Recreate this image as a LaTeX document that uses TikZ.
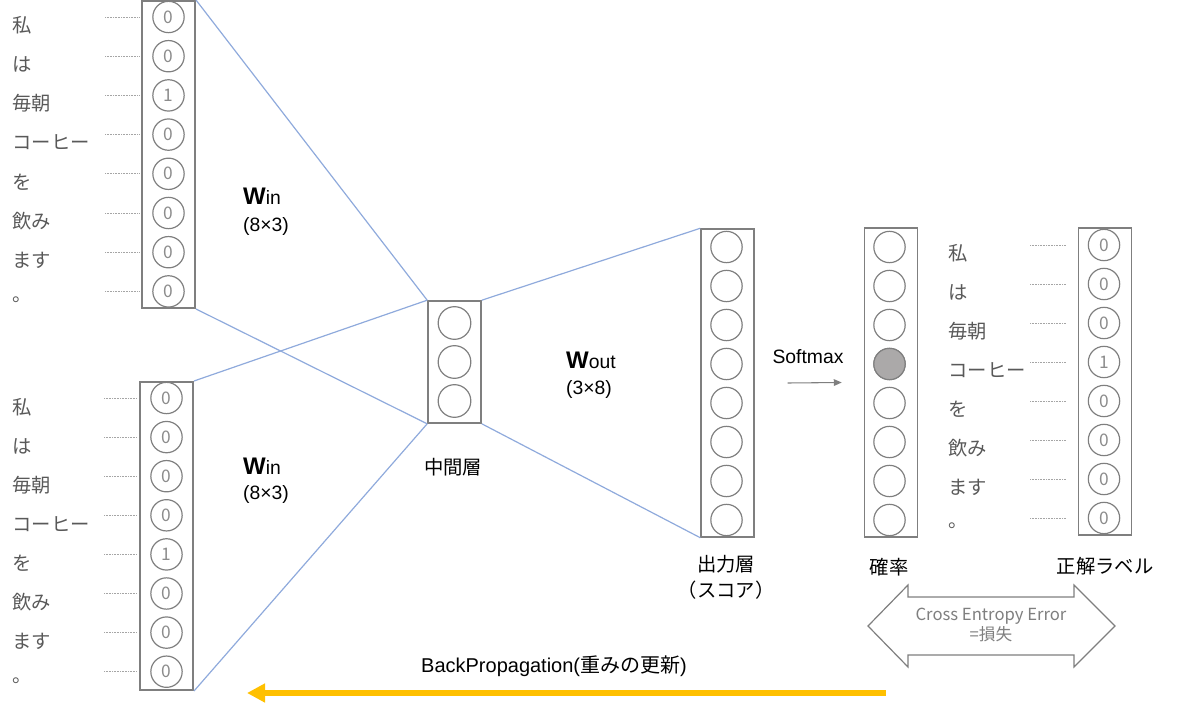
\documentclass[tikz,border=0pt]{standalone}
\usepackage{fontspec}
\setmainfont{Liberation Sans}
\newfontfamily\jp{Noto Sans CJK JP}
\usetikzlibrary{arrows.meta}

\definecolor{gridgray}{RGB}{127,127,127}
\definecolor{wordgray}{RGB}{89,89,89}
\definecolor{digitgray}{RGB}{140,140,140}
\definecolor{linkblue}{RGB}{143,170,220}
\definecolor{backyellow}{RGB}{255,192,0}
\definecolor{hitgray}{RGB}{171,169,169}

\tikzset{every picture/.style={line width=0.75pt}}
\tikzset{
  colbox/.style={draw=gridgray, line width=1.5pt, minimum width=39.75pt, inner sep=0pt},
  unit/.style={circle, draw=gridgray, line width=0.9pt, minimum size=23.5pt, inner sep=0pt,
    text=digitgray, font=\fontsize{13}{14}\selectfont\jp},
  word/.style={anchor=west, inner sep=0.75pt, text=wordgray, font=\fontsize{14.5}{16}\selectfont\jp},
  dots/.style={draw=gridgray!70, line width=0.6pt, dash pattern=on 0.6pt off 0.6pt},
  link/.style={draw=linkblue, line width=0.9pt},
  layername/.style={inner sep=0.75pt, font=\fontsize{14.5}{19.5}\selectfont\jp, align=center},
  weight/.style={inner sep=0.75pt, font=\fontsize{14.5}{16}\selectfont},
}

\begin{document}
\begin{tikzpicture}[x=0.75pt,y=0.75pt,yscale=-1,xscale=1]
\path[use as bounding box] (0,0) rectangle (1200,713);

% input column (top)
\node[colbox, minimum height=230.25pt] (inA) at (168.5,154.5) {};
\foreach \d [count=\i] in {0,0,1,0,0,0,0,0}{
  \node[unit] (inA-\i) at (168.5,{17+39.2*(\i-1)}) {\d};
}
\foreach \w [count=\i] in {私,は,毎朝,コーヒー,を,飲み,ます,。}{
  \node[word] (wA-\i) at (11,{25+39.2*(\i-1)}) {\w};
  \coordinate (dA-\i) at (105,{17+39.2*(\i-1)});
  \draw[dots, shorten >=1.5pt] (dA-\i) -- (inA.west |- inA-\i);
}

% input column (bottom)
\node[colbox, minimum height=231pt] (inB) at (166.5,536) {};
\foreach \d [count=\i] in {0,0,0,0,1,0,0,0}{
  \node[unit] (inB-\i) at (166.5,{398+39.1*(\i-1)}) {\d};
}
\foreach \w [count=\i] in {私,は,毎朝,コーヒー,を,飲み,ます,。}{
  \node[word] (wB-\i) at (11,{407+39.1*(\i-1)}) {\w};
  \coordinate (dB-\i) at (104,{398+39.1*(\i-1)});
  \draw[dots, shorten >=1.5pt] (dB-\i) -- (inB.west |- inB-\i);
}

% hidden layer
\node[colbox, line width=1.2pt, minimum height=91.5pt] (hid) at (454.5,362) {};
\foreach \i in {1,2,3}{
  \node[unit, minimum size=24.5pt] (hid-\i) at (454.5,{323+39*(\i-1)}) {};
}

% output layer
\node[colbox, line width=1.1pt, minimum height=231pt] (out) at (727.5,383) {};
\foreach \i in {1,...,8}{
  \node[unit] (out-\i) at (726.5,{247+39*(\i-1)}) {};
}

% probabilities
\node[colbox, line width=1.1pt, minimum height=231.75pt] (prob) at (891,382.5) {};
\foreach \i in {1,...,8}{
  \node[unit] (prob-\i) at (889.5,{247+39*(\i-1)}) {};
}
\node[unit, fill=hitgray] at (prob-4) {};

% correct label
\node[colbox, line width=1.1pt, minimum height=230.25pt] (lab) at (1105,381.5) {};
\foreach \d [count=\i] in {0,0,0,1,0,0,0,0}{
  \node[unit] (lab-\i) at (1104,{245+39*(\i-1)}) {\d};
}
\foreach \w [count=\i] in {私,は,毎朝,コーヒー,を,飲み,ます,。}{
  \node[word] (wC-\i) at (947,{253+39*(\i-1)}) {\w};
  \coordinate (dC-\i) at (1030,{245+39*(\i-1)});
  \draw[dots, shorten >=9pt] (dC-\i) -- (lab.west |- lab-\i);
}

% weights
\draw[link] (inA.north east) -- (hid.north west);
\draw[link] (inB.north east) -- (hid.north west);
\draw[link] (inA.south east) -- (hid.south west);
\draw[link] (inB.south east) -- (hid.south west);
\draw[link] (hid.north east) -- (out.north west);
\draw[link] (hid.south east) -- (out.south west);

% Text Node
\node[weight] (winA) at (262,196) {{\fontsize{18}{20}\selectfont\bfseries W}in};
\node[weight] (winAs) at (266,226) {(8×3)};
\node[weight] (winB) at (262,466) {{\fontsize{18}{20}\selectfont\bfseries W}in};
\node[weight] (winBs) at (266,494) {(8×3)};
\node[weight] (wout) at (591,360) {{\fontsize{18}{20}\selectfont\bfseries W}out};
\node[weight] (wouts) at (589,389) {(3×8)};

% Text Node
\node[layername] (hidname) at (453,467) {中間層};
\node[layername] (outname) at (726,577) {出力層\\（スコア）};
\node[layername] (probname) at (889,567) {確率};
\node[layername] (labname) at (1105,566) {正解ラベル};

% softmax
\node[weight] (smx) at (808,357) {Softmax};
\draw[draw=gridgray, line width=0.8pt, -{Triangle[length=6pt,width=5pt]}] ([xshift=24.75pt]out.east) -- ([xshift=-16.5pt]prob.west);

% loss arrow
\draw[draw=gridgray, line width=0.9pt, fill=white] (868,626) -- (908,585) -- (908,597) -- (1074,597) -- (1074,585) -- (1115,626) -- (1074,667) -- (1074,655) -- (908,655) -- (908,667) -- cycle;
\node[inner sep=0.75pt, text=gridgray, align=center, font=\fontsize{12.5}{15}\selectfont\jp] (cee) at (991,625) {Cross Entropy Error\\=損失};

% backpropagation
\coordinate (bpStart) at (886,693);
\coordinate (bpEnd) at (247,693);
\draw[draw=backyellow, line width=4.5pt, -{Triangle[length=13.5pt,width=13.5pt]}] (bpStart) -- (bpEnd);
\node[inner sep=0.75pt, font=\fontsize{15}{17}\selectfont] (bpname) at (554,666) {BackPropagation({\jp 重みの更新})};

\end{tikzpicture}
\end{document}
